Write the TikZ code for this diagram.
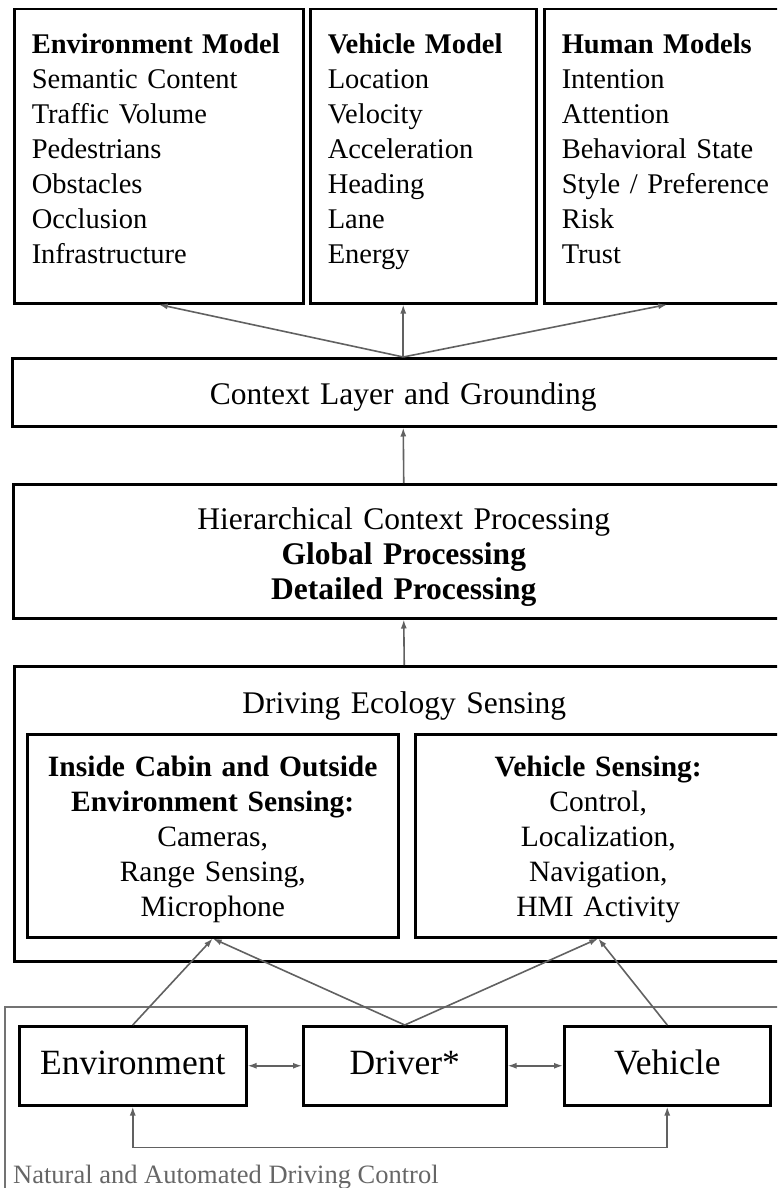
\documentclass[tikz,border=0pt]{standalone}
\usepackage{fontspec}
\setmainfont{Liberation Serif}
\usetikzlibrary{arrows.meta}

\begin{document}
\begin{tikzpicture}[x=1pt, y=-1pt,
	box/.style={draw, line width=2.5pt, inner sep=0pt, align=center},
	model/.style={box, anchor=north west, align=left, inner xsep=17.5pt,
		text width=#1, text height=44pt, text depth=250pt,
		font=\fontsize{28.5}{35}\selectfont},
	layer/.style={box, anchor=north west, text width=#1,
		font=\fontsize{31.5}{35}\selectfont},
	sense/.style={box, anchor=north west, text width=#1,
		text height=42pt, text depth=161pt,
		font=\fontsize{29.5}{35}\selectfont},
	actor/.style={box, anchor=north west, text width=#1,
		text height=48pt, text depth=31pt,
		font=\fontsize{35.5}{40}\selectfont},
	link/.style={draw=black!62, line width=1.6pt,
		>={Latex[length=9pt,width=6pt]}, ->},
	frame/.style={draw=black!55, line width=1.4pt}
]

	\path[use as bounding box, clip] (0,0) rectangle (777,1188);

	% Models
	\node[model=254pt] (envm) at (13,8)
		{\textbf{Environment Model}\\Semantic Content\\Traffic Volume\\Pedestrians\\Obstacles\\Occlusion\\Infrastructure};
	\node[model=191pt] (vehm) at (309,8)
		{\textbf{Vehicle Model}\\Location\\Velocity\\Acceleration\\Heading\\Lane\\Energy};
	\node[model=211pt] (humm) at (543,8)
		{\textbf{Human Models}\\Intention\\Attention\\Behavioral State\\Style / Preference\\Risk\\Trust};

	% Layers
	\node[layer=782pt, text height=46pt, text depth=22pt] (ctx) at (11,357)
		{Context Layer and Grounding};
	\node[layer=781pt, text height=45pt, text depth=89pt] (hier) at (12,483)
		{Hierarchical Context Processing\\\textbf{Global Processing}\\\textbf{Detailed Processing}};
	\node[layer=780pt, text height=47pt, text depth=248pt] (eco) at (13,665)
		{Driving Ecology Sensing};

	% Sensing
	\node[sense=371pt] (sensin) at (26,733)
		{\textbf{Inside Cabin and Outside}\\\textbf{Environment Sensing:}\\Cameras,\\Range Sensing,\\Microphone};
	\node[sense=366pt] (sensveh) at (414,733)
		{\textbf{Vehicle Sensing:}\\Control,\\Localization,\\Navigation,\\HMI Activity};

	% Driving control
	\draw[frame] (5,1007) rectangle (800,1200);
	\node[anchor=base west, text=black!60, inner sep=0pt,
		font=\fontsize{26.5}{30}\selectfont] (ctrl) at (13,1183)
		{Natural and Automated Driving Control};
	\node[actor=227pt] (envb) at (18,1025) {Environment};
	\node[actor=203pt] (drv) at (302,1025) {Driver*};
	\node[actor=206pt] (vehb) at (563,1025) {Vehicle};

	% Arrows
	\draw[link] (ctx.north) -- (envm.south);
	\draw[link] (ctx.north) -- (ctx.north |- vehm.south);
	\draw[link] (ctx.north) -- (humm.south);
	\draw[link] (hier.north) -- (ctx.south);
	\draw[link] (eco.north) -- (hier.south);

	\draw[link] (envb.north) -- (sensin.south);
	\draw[link] (drv.north) -- (sensin.south);
	\draw[link] (drv.north) -- (sensveh.south);
	\draw[link] (vehb.north) -- (sensveh.south);

	\draw[link, <->] (envb) -- (drv);
	\draw[link, <->] (drv) -- (vehb);
	\draw[link, <->] (envb.south) -- ++(0,41) -| (vehb.south);
\end{tikzpicture}
\end{document}
